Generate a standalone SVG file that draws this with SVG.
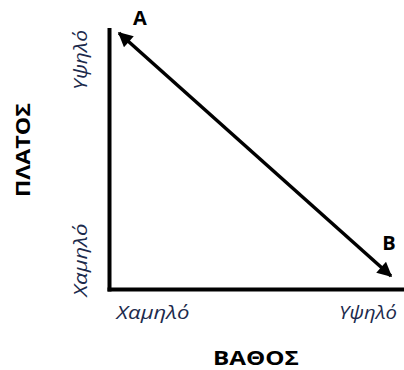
<svg xmlns="http://www.w3.org/2000/svg" width="404" height="370" viewBox="0 0 404 370">
<style>
.axis{stroke:#000;stroke-width:4;fill:none;stroke-linecap:square}
.conn{stroke:#000;stroke-width:3.5;fill:none}
.title{font-family:"Open Sans","Liberation Sans",sans-serif;font-weight:bold;font-size:20px;fill:#000}
.tick{font-family:"Open Sans","Liberation Sans",sans-serif;font-style:italic;font-size:19px;fill:#1c2a4c}
</style>
<defs>
<marker id="ah" viewBox="0 0 10 10" refX="9" refY="5" markerWidth="5" markerHeight="4.2" orient="auto-start-reverse" markerUnits="strokeWidth">
<path d="M0,0 L10,5 L0,10 Z" fill="#000"/>
</marker>
</defs>
<g id="axes">
<line class="axis" x1="109.5" y1="30" x2="109.5" y2="289.5"/>
<line class="axis" x1="109.5" y1="289.5" x2="404" y2="289.5"/>
</g>
<g id="connectors">
<line class="conn" x1="119" y1="33" x2="391" y2="276" marker-start="url(#ah)" marker-end="url(#ah)"/>
</g>
<g id="A"><text class="title" x="140" y="25" text-anchor="middle">A</text></g>
<g id="B"><text class="title" x="389" y="250" text-anchor="middle">B</text></g>
<g id="yaxis-title"><text class="title" transform="translate(30,150) rotate(-90)" text-anchor="middle" textLength="94" lengthAdjust="spacingAndGlyphs">ΠΛΑΤΟΣ</text></g>
<g id="xaxis-title"><text class="title" x="256" y="365" text-anchor="middle" textLength="86" lengthAdjust="spacingAndGlyphs">ΒΑΘΟΣ</text></g>
<g id="y-high"><text class="tick" transform="translate(87,60) rotate(-90)" text-anchor="middle" textLength="60" lengthAdjust="spacingAndGlyphs">Υψηλό</text></g>
<g id="y-low"><text class="tick" transform="translate(87,260) rotate(-90)" text-anchor="middle" textLength="73" lengthAdjust="spacingAndGlyphs">Χαμηλό</text></g>
<g id="x-low"><text class="tick" x="153" y="319" text-anchor="middle" textLength="73" lengthAdjust="spacingAndGlyphs">Χαμηλό</text></g>
<g id="x-high"><text class="tick" x="368" y="319" text-anchor="middle" textLength="58" lengthAdjust="spacingAndGlyphs">Υψηλό</text></g>
</svg>
